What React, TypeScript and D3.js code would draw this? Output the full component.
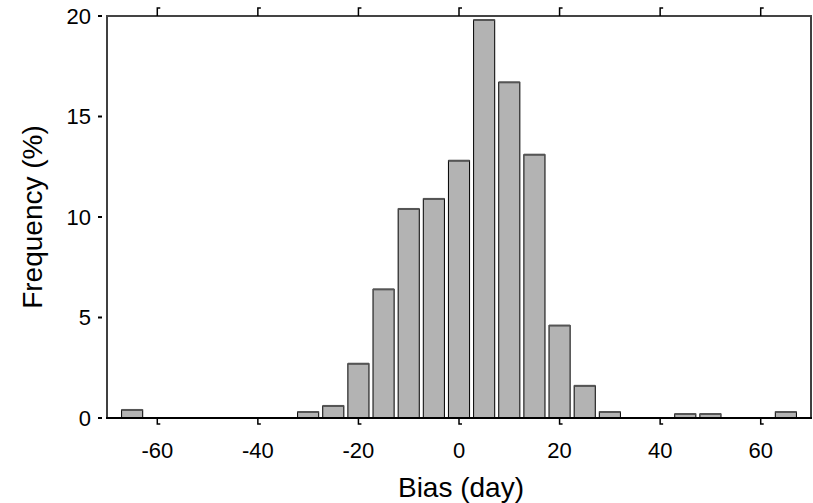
import React from "react";
import * as d3 from "d3";

// histogram bins (day) and frequency (%)
const binCenters = [
  -65, -60, -55, -50, -45, -40, -35, -30, -25, -20, -15, -10, -5, 0, 5, 10, 15,
  20, 25, 30, 35, 40, 45, 50, 55, 60, 65,
];
const frequencies = [
  0.4, 0, 0, 0, 0, 0, 0, 0.3, 0.6, 2.7, 6.4, 10.4, 10.9, 12.8, 19.8, 16.7, 13.1,
  4.6, 1.6, 0.3, 0, 0, 0.2, 0.2, 0, 0, 0.3,
];
const xTicks = [-60, -40, -20, 0, 20, 40, 60];
const yTicks = [0, 5, 10, 15, 20];

const W = 813;
const H = 503;
const left = 107;
const right = 811;
const top = 16;
const bottom = 418;
const font = "'Liberation Sans', Arial, sans-serif";

const App = () => {
  const x = d3.scaleLinear().domain([-70, 70]).range([left, right]);
  const y = d3.scaleLinear().domain([0, 20]).range([bottom, top]);
  const halfW = 2.1; // bar half width in data units

  const bars = binCenters
    .map((c, i) => ({ c, v: frequencies[i] }))
    .filter((d) => d.v > 0);

  return (
    <div style={{ position: "fixed", left: 0, top: 0 }}>
      <svg width={W} height={H} style={{ display: "block", background: "#fff" }}>
        {/* bars */}
        {bars.map((d) => {
          const x0 = x(d.c - halfW);
          const x1 = x(d.c + halfW);
          const yt = y(d.v);
          return (
            <g key={d.c}>
              <rect
                x={x0}
                y={yt}
                width={x1 - x0}
                height={bottom - yt}
                fill="#b3b3b3"
                stroke="#000"
                strokeWidth={1}
              />
              <line x1={x0} x2={x1} y1={yt} y2={yt} stroke="#555" strokeWidth={2} />
            </g>
          );
        })}

        {/* frame */}
        <line x1={left} x2={left} y1={top} y2={bottom} stroke="#000" strokeWidth={1.5} />
        <line x1={right} x2={right} y1={top} y2={bottom} stroke="#000" strokeWidth={1.5} />
        <line x1={left - 1} x2={right + 1} y1={top} y2={top} stroke="#444" strokeWidth={2} />
        <line x1={left - 1} x2={right + 1} y1={bottom} y2={bottom} stroke="#000" strokeWidth={2} />

        {/* x ticks, top and bottom */}
        {xTicks.map((t) => (
          <g key={t}>
            <path
              d={`M${x(t)},${top} V${top - 8} h3`}
              fill="none"
              stroke="#000"
              strokeWidth={1.5}
            />
            <path
              d={`M${x(t)},${bottom} V${bottom + 6} h3`}
              fill="none"
              stroke="#000"
              strokeWidth={1.5}
            />
            <text
              x={x(t)}
              y={458}
              textAnchor="middle"
              fontFamily={font}
              fontSize={22}
              fill="#000"
            >
              {t}
            </text>
          </g>
        ))}

        {/* y ticks */}
        {yTicks.map((t) => (
          <g key={t}>
            <line x1={98} x2={102} y1={y(t)} y2={y(t)} stroke="#000" strokeWidth={2} />
            <text
              x={91}
              y={y(t)}
              dy="0.36em"
              textAnchor="end"
              fontFamily={font}
              fontSize={22}
              fill="#000"
            >
              {t}
            </text>
          </g>
        ))}

        {/* axis titles */}
        <text
          x={(left + right) / 2 + 2}
          y={497}
          textAnchor="middle"
          fontFamily={font}
          fontSize={28}
          fill="#000"
        >
          Bias (day)
        </text>
        <text
          transform={`translate(42,${(top + bottom) / 2}) rotate(-90)`}
          textAnchor="middle"
          fontFamily={font}
          fontSize={28}
          fill="#000"
        >
          Frequency (%)
        </text>
      </svg>
    </div>
  );
};

export default App;
